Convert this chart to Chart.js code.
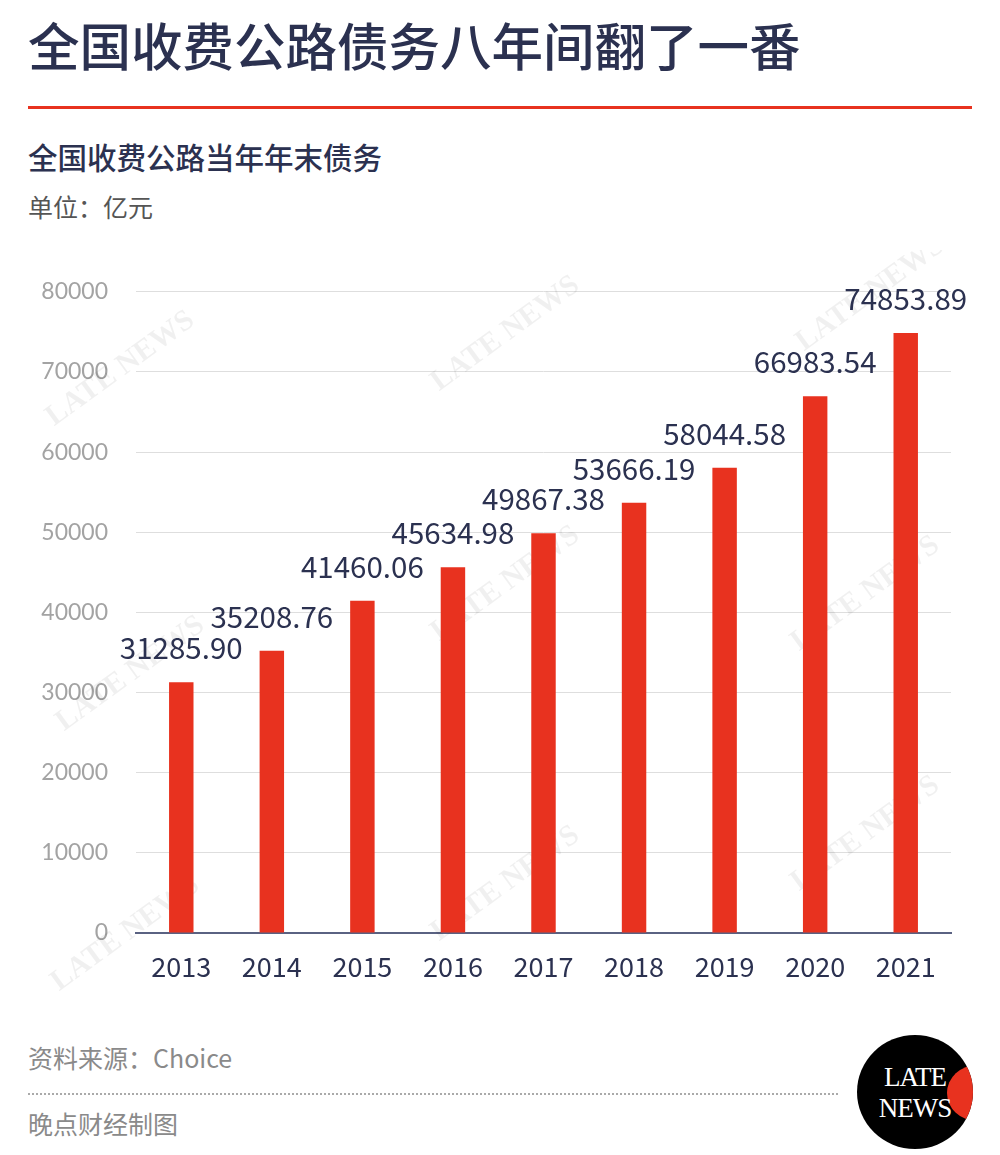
<!DOCTYPE html>
<html>
<head>
<meta charset="utf-8">
<script src="https://cdn.jsdelivr.net/npm/chart.js@4.4.0/dist/chart.umd.min.js"></script>
<style>
  body { margin: 0; background: #fff; width: 1000px; height: 1155px; position: relative; overflow: hidden;
         font-family: "Noto Sans CJK SC", "Noto Sans", sans-serif; }
  .t { position: absolute; left: 28px; white-space: nowrap; line-height: 1; }
  #title { top: 18px; font-size: 51.5px; font-weight: 500; color: #2b3150; }
  #rule { position: absolute; left: 28px; top: 106px; width: 944px; height: 3px; background: #e8321f; }
  #sub { top: 142px; font-size: 29.5px; font-weight: 500; color: #2b3150; }
  #unit { top: 194px; font-size: 25px; color: #555; }
  #src { top: 1045px; font-size: 25px; color: #8a8a8a; }
  #dots { position: absolute; left: 28px; top: 1093px; width: 810px; border-top: 2px dotted #aaa; }
  #maker { top: 1111px; font-size: 25px; color: #8a8a8a; }
  #wrap { position: absolute; left: 0; top: 250px; width: 1000px; height: 750px; }
  #logo { position: absolute; left: 857px; top: 1035px; width: 116px; height: 114px; border-radius: 50%;
          background: #000; overflow: hidden; }
  #logo .red { position: absolute; left: 90px; top: 30px; width: 60px; height: 56px; border-radius: 50%; background: #e8321f; }
  #logo .txt { position: absolute; left: 0; width: 116px; text-align: center; color: #fff;
               font-family: "Liberation Serif", "DejaVu Serif", serif; font-size: 27px; line-height: 1; letter-spacing: -1px; }
</style>
</head>
<body>
<div class="t" id="title">全国收费公路债务八年间翻了一番</div>
<div id="rule"></div>
<div class="t" id="sub">全国收费公路当年年末债务</div>
<div class="t" id="unit">单位：亿元</div>
<div id="wrap"><canvas id="myChart"></canvas></div>
<div class="t" id="src">资料来源：Choice</div>
<div id="dots"></div>
<div class="t" id="maker">晚点财经制图</div>
<div id="logo"><div class="red"></div><div class="txt" style="top:29px">LATE</div><div class="txt" style="top:60px">NEWS</div></div>
<script>
const years = ['2013', '2014', '2015', '2016', '2017', '2018', '2019', '2020', '2021'];
const debt = [31285.90, 35208.76, 41460.06, 45634.98, 49867.38, 53666.19, 58044.58, 66983.54, 74853.89];
const yTicks = [0, 10000, 20000, 30000, 40000, 50000, 60000, 70000, 80000];

const navy = '#2b3150';
const red = '#e8321f';

/* etiquettes au-dessus des barres */
const valueLabels = {
  id: 'valueLabels',
  afterDatasetsDraw(chart) {
    const c = chart.ctx;
    const meta = chart.getDatasetMeta(0);
    c.save();
    c.font = '29.5px "Noto Sans CJK SC", "Noto Sans", sans-serif';
    c.fillStyle = navy;
    c.textAlign = 'center';
    c.textBaseline = 'alphabetic';
    meta.data.forEach((bar, i) => {
      c.fillText(debt[i].toFixed(2), bar.x, bar.y - 23);
    });
    c.restore();
  }
};

/* filigrane léger */
const watermark = {
  id: 'watermark',
  beforeDatasetsDraw(chart) {
    const c = chart.ctx;
    const spots = [[125, 125], [510, 90], [875, 50], [135, 430], [510, 340], [870, 350], [130, 690], [510, 640], [870, 590]];
    c.save();
    c.font = 'bold 30px "Liberation Serif", serif';
    c.fillStyle = 'rgba(0,0,0,0.06)';
    c.textAlign = 'center';
    spots.forEach(([x, y]) => {
      c.save();
      c.translate(x, y);
      c.rotate(-Math.PI / 5);
      c.fillText('LATE NEWS', 0, 0);
      c.restore();
    });
    c.restore();
  }
};

const ctx = document.getElementById('myChart').getContext('2d');
new Chart(ctx, {
  type: 'bar',
  data: {
    labels: years,
    datasets: [{
      data: debt,
      backgroundColor: red,
      barPercentage: 0.27,
      categoryPercentage: 1
    }]
  },
  options: {
    responsive: true,
    maintainAspectRatio: false,
    animation: false,
    layout: { padding: { top: 21, right: 49, left: 0, bottom: 0 } },
    plugins: { legend: { display: false }, tooltip: { enabled: false } },
    scales: {
      x: {
        grid: { display: false },
        border: { color: '#5a6282', width: 2 },
        ticks: {
          color: navy,
          font: { family: '"Noto Sans CJK SC", "Noto Sans", sans-serif', size: 27 },
          padding: 10
        },
        afterFit(axis) { axis.height = 67; }
      },
      y: {
        min: 0,
        max: 80000,
        afterBuildTicks(axis) { axis.ticks = yTicks.map(v => ({ value: v })); },
        grid: { color: '#dedede', lineWidth: 1, drawTicks: false },
        border: { display: false },
        ticks: {
          color: '#a3a3a3',
          font: { family: 'Lato, "Open Sans", sans-serif', size: 23 },
          padding: 28,
          callback: v => String(v)
        },
        afterFit(axis) { axis.width = 136; }
      }
    }
  },
  plugins: [watermark, valueLabels]
});
</script>
</body>
</html>
